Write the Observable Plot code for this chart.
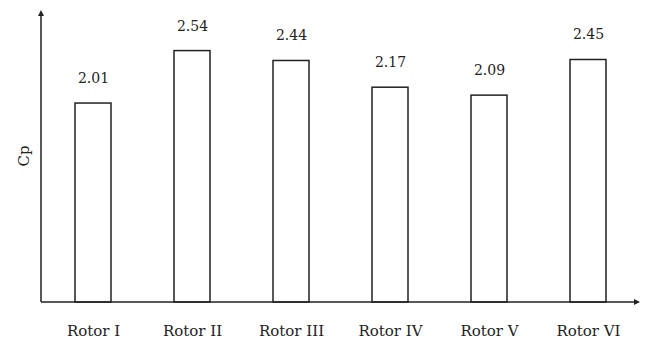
<!DOCTYPE html>
<html>
<head>
<meta charset="utf-8">
<script src="https://cdn.jsdelivr.net/npm/d3@7"></script>
<script src="https://cdn.jsdelivr.net/npm/@observablehq/plot@0.6"></script>
<style>
  html, body { margin: 0; padding: 0; background: #fff; }
</style>
</head>
<body>
<div id="chart"></div>
<script>
const rotors = ["Rotor I", "Rotor II", "Rotor III", "Rotor IV", "Rotor V", "Rotor VI"];
const cpValues = [2.01, 2.54, 2.44, 2.17, 2.09, 2.45];
const yLabel = "Cp";

const data = rotors.map((r, i) => ({rotor: r, cp: cpValues[i]}));
const font = "'DejaVu Serif', serif";
const ink = "#222";

function axesMark(index, scales, values, dims) {
  const g = d3.create("svg:g");
  const x0 = dims.marginLeft;
  const y0 = dims.height - dims.marginBottom;
  const yTop = dims.marginTop;
  const xEnd = dims.width - dims.marginRight;
  g.append("line").attr("x1", x0).attr("y1", y0).attr("x2", x0).attr("y2", yTop + 4)
    .attr("stroke", ink).attr("stroke-width", 1.5);
  g.append("line").attr("x1", x0).attr("y1", y0).attr("x2", xEnd - 4).attr("y2", y0)
    .attr("stroke", ink).attr("stroke-width", 1.5);
  g.append("path").attr("d", `M${x0},${yTop} L${x0 - 3},${yTop + 6} L${x0 + 3},${yTop + 6} Z`).attr("fill", ink);
  g.append("path").attr("d", `M${xEnd},${y0} L${xEnd - 6},${y0 - 3} L${xEnd - 6},${y0 + 3} Z`).attr("fill", ink);
  g.append("text")
    .attr("transform", `translate(${x0 - 16},${(yTop + y0) / 2}) rotate(-90)`)
    .attr("text-anchor", "middle").attr("dominant-baseline", "middle")
    .attr("font-family", font).attr("font-size", 15).attr("fill", ink)
    .text(yLabel);
  return g.node();
}

const chart = Plot.plot({
  width: 649,
  height: 347,
  marginLeft: 41,
  marginRight: 9,
  marginTop: 10,
  marginBottom: 45,
  style: {fontFamily: font, color: ink, background: "white"},
  x: {domain: rotors, paddingInner: 0.64, paddingOuter: 0.32, label: null},
  y: {domain: [0, 2.95], axis: null},
  marks: [
    Plot.barY(data, {x: "rotor", y: "cp", fill: "white", stroke: ink, strokeWidth: 1.5}),
    Plot.text(data, {x: "rotor", y: "cp", text: d => d.cp.toFixed(2), dy: -25, fontSize: 14, fill: ink}),
    Plot.axisX({tickSize: 0, tickPadding: 23, fontSize: 15, label: null, fill: ink}),
    axesMark
  ]
});
document.getElementById("chart").appendChild(chart);
</script>
</body>
</html>
